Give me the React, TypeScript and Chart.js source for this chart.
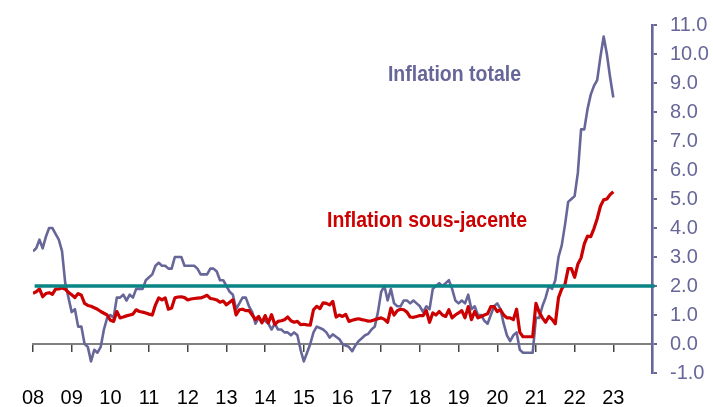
import React, { useEffect, useRef } from 'react';
import { Chart, registerables } from 'chart.js';

Chart.register(...registerables);

// Year tick labels (one per January, 2008 … 2023)
const YEAR_LABELS = ['08', '09', '10', '11', '12', '13', '14', '15', '16', '17', '18', '19', '20', '21', '22', '23'];

// Monthly values, Jan 2008 … Jan 2023 (%, y/y)
const TOTAL = [
  3.2, 3.3, 3.6, 3.3, 3.7, 4.0, 4.0, 3.8, 3.6, 3.2, 2.1, 1.6,
  1.1, 1.2, 0.6, 0.6, 0.0, -0.1, -0.6, -0.2, -0.3, -0.1, 0.5, 0.9,
  1.0, 0.9, 1.6, 1.6, 1.7, 1.5, 1.7, 1.6, 1.9, 1.9, 1.9, 2.2,
  2.3, 2.4, 2.7, 2.8, 2.7, 2.7, 2.6, 2.6, 3.0, 3.0, 3.0, 2.7,
  2.7, 2.7, 2.7, 2.6, 2.4, 2.4, 2.4, 2.6, 2.6, 2.5, 2.2, 2.2,
  2.0, 1.8, 1.7, 1.2, 1.4, 1.6, 1.6, 1.3, 1.1, 0.7, 0.9, 0.8,
  0.8, 0.7, 0.5, 0.7, 0.5, 0.5, 0.4, 0.4, 0.3, 0.4, 0.3, -0.2,
  -0.6, -0.3, 0.0, 0.4, 0.6, 0.55, 0.5, 0.4, 0.22, 0.33, 0.25, 0.17,
  0.0, -0.05, -0.1, -0.25, -0.05, 0.1, 0.2, 0.3, 0.35, 0.5, 0.6, 1.1,
  1.8, 2.0, 1.5, 1.9, 1.4, 1.3, 1.3, 1.5, 1.5, 1.4, 1.5, 1.4,
  1.3, 1.1, 1.3, 1.2, 1.9, 2.0, 2.1, 2.0, 2.1, 2.2, 1.9, 1.5,
  1.4, 1.5, 1.4, 1.7, 1.2, 1.3, 1.0, 1.0, 0.8, 0.7, 1.0, 1.3,
  1.4, 1.2, 0.7, 0.3, 0.1, 0.3, 0.4, -0.2, -0.3, -0.3, -0.3, -0.3,
  0.9, 0.9, 1.3, 1.6, 2.0, 1.9, 2.2, 3.0, 3.4, 4.1, 4.9, 5.0,
  5.1, 5.9, 7.4, 7.4, 8.1, 8.6, 8.9, 9.1, 9.9, 10.6, 10.0, 9.2,
  8.5,
];

const CORE = [
  1.75, 1.8, 1.9, 1.63, 1.74, 1.77, 1.71, 1.89, 1.9, 1.93, 1.89, 1.78,
  1.7, 1.6, 1.74, 1.68, 1.4, 1.33, 1.3, 1.25, 1.2, 1.12, 1.06, 1.0,
  0.82, 0.78, 1.12, 0.9, 0.93, 0.97, 1.0, 1.03, 1.18, 1.12, 1.1, 1.07,
  1.03, 1.0, 1.35, 1.59, 1.52, 1.59, 1.2, 1.24, 1.59, 1.62, 1.63, 1.6,
  1.52, 1.55, 1.57, 1.58, 1.59, 1.63, 1.68, 1.57, 1.55, 1.52, 1.44, 1.48,
  1.35, 1.44, 1.52, 1.0, 1.18, 1.2, 1.15, 1.15, 1.0, 0.84, 0.95, 0.73,
  0.98, 0.73, 1.01, 0.67, 0.78, 0.8, 0.84, 0.93, 0.8, 0.75, 0.78, 0.67,
  0.68, 0.66, 0.65, 1.18, 1.3, 1.22, 1.42, 1.4, 1.35, 1.47, 0.93, 1.0,
  0.95, 1.02, 0.78, 0.82, 0.85, 0.87, 0.84, 0.82, 0.79, 0.8, 0.84, 0.87,
  0.9, 0.85, 0.75, 1.24, 1.0, 1.15, 1.2, 1.18, 1.1, 0.93, 0.92, 0.95,
  0.98, 0.98, 1.15, 0.75, 1.07, 1.0, 1.12, 1.0, 0.95, 1.18, 0.9, 1.0,
  1.07, 1.15, 0.9, 1.29, 0.84, 1.12, 0.9, 0.95, 1.0, 1.04, 1.29, 1.29,
  1.12, 1.18, 1.0, 0.9, 0.9, 0.84, 1.2, 0.4, 0.25, 0.25, 0.25, 0.25,
  1.4, 1.1, 0.9, 0.75, 0.95, 0.85, 0.7, 1.6, 1.9, 2.05, 2.6, 2.6,
  2.3, 2.75, 2.97, 3.45, 3.72, 3.7, 3.98, 4.32, 4.75, 4.97, 5.0, 5.15,
  5.25,
];

const TARGET = 2.0;
const TARGET_SPAN = [0.5, 192.8];

const LABEL_TOTAL = 'Inflation totale';
const LABEL_CORE = 'Inflation sous-jacente';

const BLUE = '#666699';
const RED = '#cc0000';
const TEAL = '#0a8585';
const FONT = '"Liberation Sans", Arial, Helvetica, sans-serif';

const X_MAX = 192;

const toPoints = (arr: number[]) => arr.map((v, i) => ({ x: i, y: v }));

const seriesLabels = {
  id: 'seriesLabels',
  afterDatasetsDraw(chart: any) {
    const { ctx } = chart;
    const xs = chart.scales.x;
    const ys = chart.scales.y;
    const items = [
      { text: LABEL_TOTAL, color: BLUE, m: 110.1, v: 9.07 },
      { text: LABEL_CORE, color: RED, m: 91.2, v: 4.045 },
    ];
    ctx.save();
    ctx.font = 'bold 22px ' + FONT;
    ctx.textBaseline = 'alphabetic';
    ctx.textAlign = 'left';
    for (const it of items) {
      const px = xs.getPixelForValue(it.m);
      const py = ys.getPixelForValue(it.v);
      ctx.save();
      ctx.translate(px, py);
      ctx.scale(0.885, 1);
      ctx.fillStyle = it.color;
      ctx.fillText(it.text, 0, 0);
      ctx.restore();
    }
    ctx.restore();
  },
};

export default function App() {
  const ref = useRef<HTMLCanvasElement | null>(null);

  useEffect(() => {
    if (!ref.current) return;
    const chart = new Chart(ref.current, {
      type: 'line',
      data: {
        datasets: [
          {
            label: 'target',
            data: TARGET_SPAN.map((x) => ({ x, y: TARGET })),
            borderColor: TEAL,
            borderWidth: 3.5,
            pointRadius: 0,
            order: 0,
            clip: 10,
          } as any,
          {
            label: 'core',
            data: toPoints(CORE),
            borderColor: RED,
            borderWidth: 3.2,
            pointRadius: 0,
            order: 1,
          },
          {
            label: 'total',
            data: toPoints(TOTAL),
            borderColor: BLUE,
            borderWidth: 2.6,
            pointRadius: 0,
            order: 2,
          },
        ],
      },
      options: {
        animation: false,
        responsive: false,
        devicePixelRatio: 1,
        events: [],
        layout: { padding: { left: 33, top: 21, right: 0, bottom: 0 } },
        plugins: { legend: { display: false }, tooltip: { enabled: false } },
        elements: { line: { tension: 0, borderJoinStyle: 'round' } },
        scales: {
          x: {
            type: 'linear',
            position: { y: 0 } as any,
            min: 0,
            max: X_MAX,
            ticks: { display: false, stepSize: 12, maxTicksLimit: 30 },
            grid: { drawOnChartArea: false, drawTicks: true, tickLength: 7, color: '#444444', lineWidth: 1.5 },
            border: { color: '#808080', width: 2 },
          },
          x2: {
            type: 'linear',
            position: 'bottom',
            min: 0,
            max: X_MAX,
            afterFit: (s: any) => { s.height = 34; },
            ticks: {
              stepSize: 12,
              maxTicksLimit: 30,
              autoSkip: false,
              maxRotation: 0,
              padding: 13,
              color: '#000000',
              font: { family: FONT, size: 20 },
              callback: (v: any) => YEAR_LABELS[Math.round(Number(v) / 12)] ?? '',
            },
            grid: { display: false, drawTicks: false },
            border: { display: false },
          },
          y: {
            type: 'linear',
            position: 'right',
            min: -1,
            max: 11,
            afterFit: (s: any) => { s.width = 61; },
            ticks: {
              stepSize: 1,
              maxTicksLimit: 30,
              autoSkip: false,
              padding: 13,
              color: BLUE,
              font: { family: FONT, size: 20 },
              callback: (v: any) => Number(v).toFixed(1),
            },
            grid: { drawOnChartArea: false, drawTicks: true, tickLength: 5, color: BLUE, lineWidth: 2 },
            border: { color: BLUE, width: 2.6 },
          },
        },
      } as any,
      plugins: [seriesLabels],
    });
    return () => chart.destroy();
  }, []);

  return (
    <div style={{ position: 'fixed', left: 0, top: 0, width: 713, height: 407, background: '#ffffff' }}>
      <canvas ref={ref} width={713} height={407} style={{ display: 'block' }} />
    </div>
  );
}
